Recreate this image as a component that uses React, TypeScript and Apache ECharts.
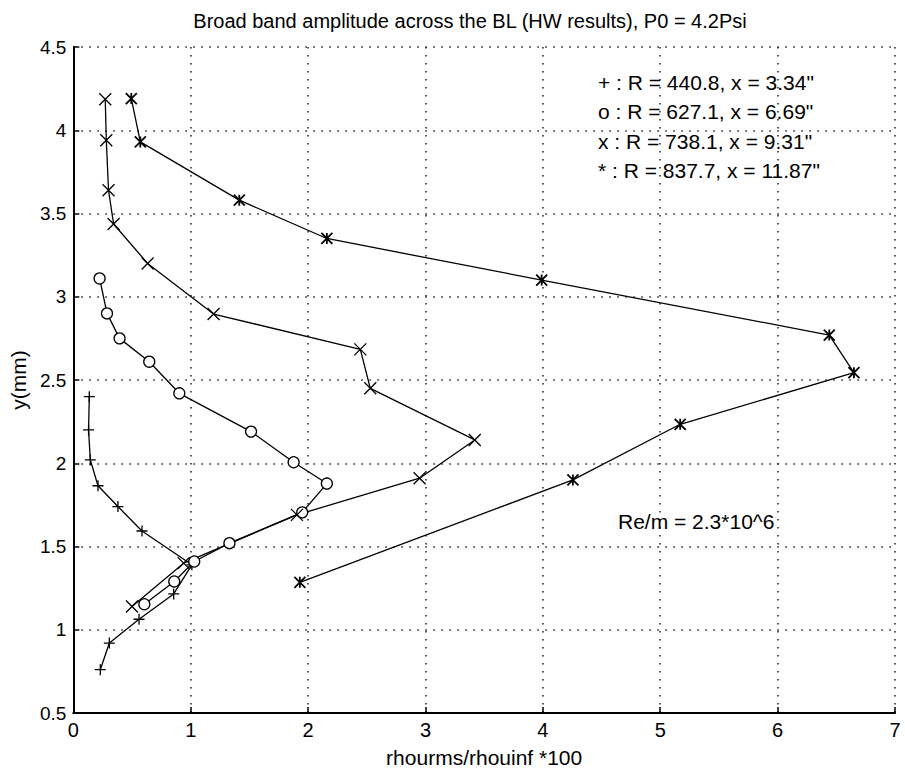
import React, { useEffect, useRef } from "react";
import * as echarts from "echarts";

const plusX = [0.136, 0.13, 0.145, 0.21, 0.38, 0.585, 1.01, 0.855, 0.56, 0.307, 0.23];
const plusY = [2.4, 2.2, 2.02, 1.865, 1.74, 1.593, 1.39, 1.215, 1.063, 0.92, 0.76];

const circleX = [0.224, 0.287, 0.394, 0.647, 0.903, 1.514, 1.877, 2.16, 1.95, 1.33, 1.03, 0.86, 0.605];
const circleY = [3.11, 2.9, 2.75, 2.61, 2.42, 2.19, 2.006, 1.878, 1.705, 1.52, 1.41, 1.29, 1.153];

const crossX = [0.272, 0.281, 0.3, 0.343, 0.633, 1.195, 2.445, 2.53, 3.42, 2.95, 1.905, 0.94, 0.5];
const crossY = [4.186, 3.94, 3.64, 3.437, 3.2, 2.896, 2.684, 2.45, 2.14, 1.91, 1.69, 1.4, 1.14];

const starX = [0.494, 0.571, 1.414, 2.16, 3.99, 6.44, 6.65, 5.17, 4.256, 1.93];
const starY = [4.19, 3.93, 3.58, 3.35, 3.1, 2.77, 2.544, 2.234, 1.9, 1.285];

const legendLines = [
  '+ : R = 440.8, x = 3.34"',
  'o : R = 627.1, x = 6.69"',
  'x : R = 738.1, x = 9.31"',
  '* : R = 837.7, x = 11.87"',
];
const reText = "Re/m = 2.3*10^6";
const titleText = "Broad band amplitude across the BL (HW results), P0 = 4.2Psi";
const xLabel = "rhourms/rhouinf *100";
const yLabel = "y(mm)";

const FONT = "'Liberation Sans', Arial, Helvetica, sans-serif";

const zip = (xs: number[], ys: number[]) => xs.map((x, i) => [x, ys[i]]);

export default function App() {
  const ref = useRef<HTMLDivElement>(null);
  useEffect(() => {
    if (!ref.current) return;
    const chart = echarts.init(ref.current, null, { renderer: "svg" });
    const lineStyle = { color: "#000", width: 1.3 };
    const mk = (name: string, xs: number[], ys: number[], symbol: string, size: number, item: any) => ({
      name,
      type: "line",
      data: zip(xs, ys),
      symbol,
      symbolSize: size,
      showAllSymbols: true,
      lineStyle,
      itemStyle: item,
      emphasis: { disabled: true },
      z: 3,
    });
    chart.setOption({
      animation: false,
      backgroundColor: "#fff",
      title: {
        text: titleText,
        left: 465,
        textAlign: "center",
        top: 6,
        textStyle: { fontFamily: FONT, fontSize: 20, fontWeight: "normal", color: "#000" },
      },
      grid: { left: 73, right: 10, top: 47, bottom: 60, containLabel: false },
      xAxis: {
        type: "value",
        min: 0,
        max: 7,
        interval: 1,
        name: xLabel,
        nameLocation: "middle",
        nameGap: 34,
        nameTextStyle: { fontFamily: FONT, fontSize: 21, color: "#000" },
        axisLine: { show: true, onZero: false, lineStyle: { color: "#000", width: 2 } },
        axisTick: { show: true, inside: true, length: 6, lineStyle: { color: "#000", width: 1.5 } },
        axisLabel: { fontFamily: FONT, fontSize: 20, color: "#000", margin: 7 },
        splitLine: { show: true, lineStyle: { color: "#222", width: 1.5, type: [1.5, 6.5] } },
      },
      yAxis: {
        type: "value",
        min: 0.5,
        max: 4.5,
        interval: 0.5,
        name: yLabel,
        nameLocation: "middle",
        nameGap: 32,
        nameRotate: 90,
        nameTextStyle: { fontFamily: FONT, fontSize: 21, color: "#000" },
        axisLine: { show: true, onZero: false, lineStyle: { color: "#000", width: 2 } },
        axisTick: { show: true, inside: true, length: 6, lineStyle: { color: "#000", width: 1.5 } },
        axisLabel: { fontFamily: FONT, fontSize: 19, color: "#000", margin: 7 },
        splitLine: { show: true, lineStyle: { color: "#222", width: 1.5, type: [1.5, 6.5] } },
      },
      series: [
        mk("plus", plusX, plusY, "path://M5,0L5,10M0,5L10,5", 11, { color: "#000", borderColor: "#000", borderWidth: 1.3 }),
        mk("circle", circleX, circleY, "circle", 11, { color: "#fff", borderColor: "#000", borderWidth: 1.3 }),
        mk("cross", crossX, crossY, "path://M0,0L10,10M10,0L0,10", 12, { color: "#000", borderColor: "#000", borderWidth: 1.3 }),
        mk("star", starX, starY, "path://M0,0L10,10M10,0L0,10M5,0L5,10", 11, { color: "#000", borderColor: "#000", borderWidth: 1.8 }),
      ],
      graphic: [
        ...legendLines.map((t, i) => ({
          type: "text",
          left: 598,
          top: 72 + i * 29.3,
          style: { text: t, fontFamily: FONT, fontSize: 21, fill: "#000" },
          z: 10,
        })),
        {
          type: "text",
          left: 618,
          top: 511,
          style: { text: reText, fontFamily: FONT, fontSize: 21, fill: "#000" },
          z: 10,
        },
      ],
    });
    return () => chart.dispose();
  }, []);
  return (
    <div
      ref={ref}
      style={{ position: "absolute", left: 0, top: 0, width: 905, height: 773, background: "#fff" }}
    />
  );
}
